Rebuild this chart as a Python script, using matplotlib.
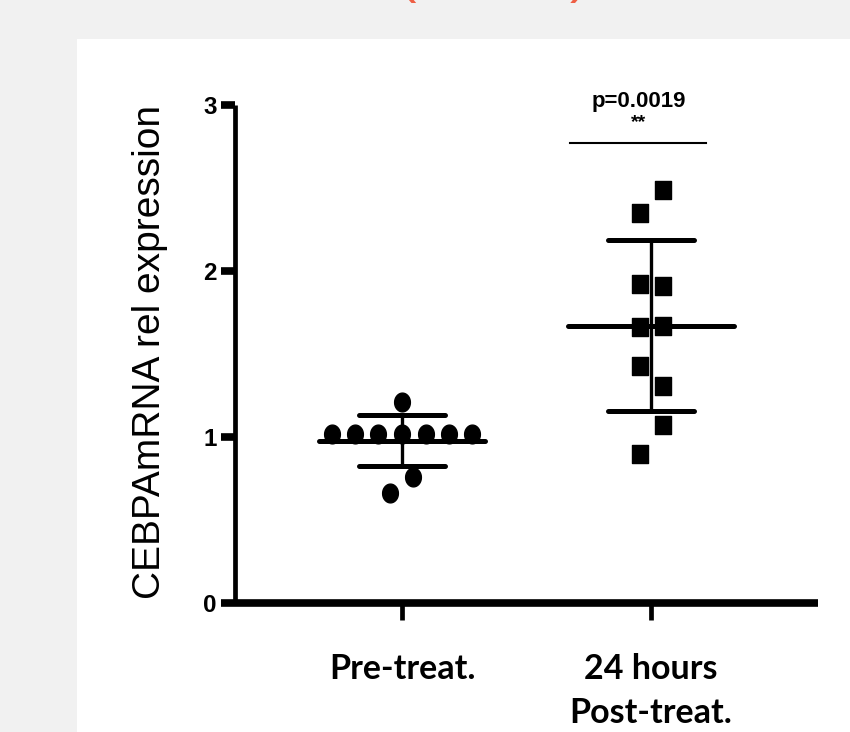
import matplotlib.pyplot as plt
import numpy as np
from matplotlib.patches import Rectangle
from matplotlib.path import Path

# relative CEBPA mRNA expression, one value per patient
pre_values = [1.02, 1.02, 1.02, 1.02, 1.21, 1.02, 1.02, 1.02, 0.76, 0.66]
pre_offsets = [-0.28, -0.19, -0.095, 0.0, 0.0, 0.095, 0.19, 0.28, 0.045, -0.048]
post_values = [2.49, 2.35, 1.92, 1.91, 1.66, 1.67, 1.43, 1.31, 1.07, 0.90]
post_offsets = [0.048, -0.044, -0.044, 0.048, -0.044, 0.048, -0.044, 0.048, 0.048, -0.044]
groups = ["Pre-treat.", "24 hours\nPost-treat."]
y_ticks = [0, 1, 2, 3]
p_text = "p=0.0019"
stars = "**"

bg = "#f1f1f1"
title_red = "#ee5f45"

# slightly tall markers, like the exported GraphPad figure
t = np.linspace(0, 2 * np.pi, 60)
ellipse = Path(np.column_stack([0.42 * np.cos(t), 0.5 * np.sin(t)]), closed=True)
rect = Path([(-0.42, -0.5), (0.42, -0.5), (0.42, 0.5), (-0.42, 0.5), (-0.42, -0.5)], closed=True)

fig = plt.figure(figsize=(8.5, 7.32), dpi=100)
fig.patch.set_facecolor(bg)
fig.patches.append(Rectangle((77 / 850, 0), 1, (732 - 39) / 732, transform=fig.transFigure,
                             facecolor="white", edgecolor="none", zorder=-5))

# bits of the slide heading peeking in at the top
fig.text(407 / 850, 1.012, "(", color=title_red, fontsize=40,
         ha="center", va="baseline", family="Liberation Sans")
fig.text(579 / 850, 1.012, ")", color=title_red, fontsize=40,
         ha="center", va="baseline", family="Liberation Sans")

ax = fig.add_axes([235 / 850, 129 / 732, (818 - 235) / 850, (603 - 105) / 732])
ax.set_facecolor("none")

for pos, vals, offs, mk in [(1, pre_values, pre_offsets, ellipse),
                            (2, post_values, post_offsets, rect)]:
    vals = np.array(vals)
    m = vals.mean()
    sd = vals.std(ddof=1)
    ax.plot([pos - 0.333, pos + 0.333], [m, m], color="black", lw=3.6,
            solid_capstyle="round", zorder=3)
    for y in (m - sd, m + sd):
        ax.plot([pos - 0.172, pos + 0.172], [y, y], color="black", lw=3.6,
                solid_capstyle="round", zorder=3)
    ax.plot([pos, pos], [m - sd, m + sd], color="black", lw=2.4, zorder=3)
    ax.plot(pos + np.array(offs), vals, linestyle="none", marker=mk, markersize=13.5,
            color="black", zorder=4)

# significance bracket
ax.plot([1.675, 2.22], [2.77, 2.77], color="black", lw=1.5, clip_on=False)
ax.text(1.952, 2.99, p_text, ha="center", va="baseline", fontsize=16,
        fontweight="bold", family="Liberation Sans")
ax.text(1.952, 2.865, stars, ha="center", va="baseline", fontsize=14,
        fontweight="bold", family="Liberation Sans")

ax.set_xlim(0.329, 2.671)
ax.set_ylim(0, 3)
ax.set_yticks(y_ticks, labels=[str(v) for v in y_ticks], fontsize=17.5,
              fontweight="bold", family="Liberation Sans")
ax.set_xticks([1, 2], labels=groups, fontsize=24.5, fontweight="bold",
              family="Lato", linespacing=1.45)

for s in ["top", "right"]:
    ax.spines[s].set_visible(False)
ax.spines["left"].set_linewidth(3.4)
ax.spines["bottom"].set_linewidth(5.5)
ax.spines["left"].set_capstyle("butt")
ax.spines["bottom"].set_capstyle("butt")
ax.tick_params(axis="y", direction="out", length=10, width=5.5, pad=3)
ax.tick_params(axis="x", direction="out", length=12, width=3.4, pad=24)

fig.text(150 / 850, (732 - 352) / 732, "CEBPAmRNA rel expression", rotation=90,
         ha="center", va="center", fontsize=28, family="Liberation Sans")

fig.savefig("out.png", dpi=100, facecolor=bg)
